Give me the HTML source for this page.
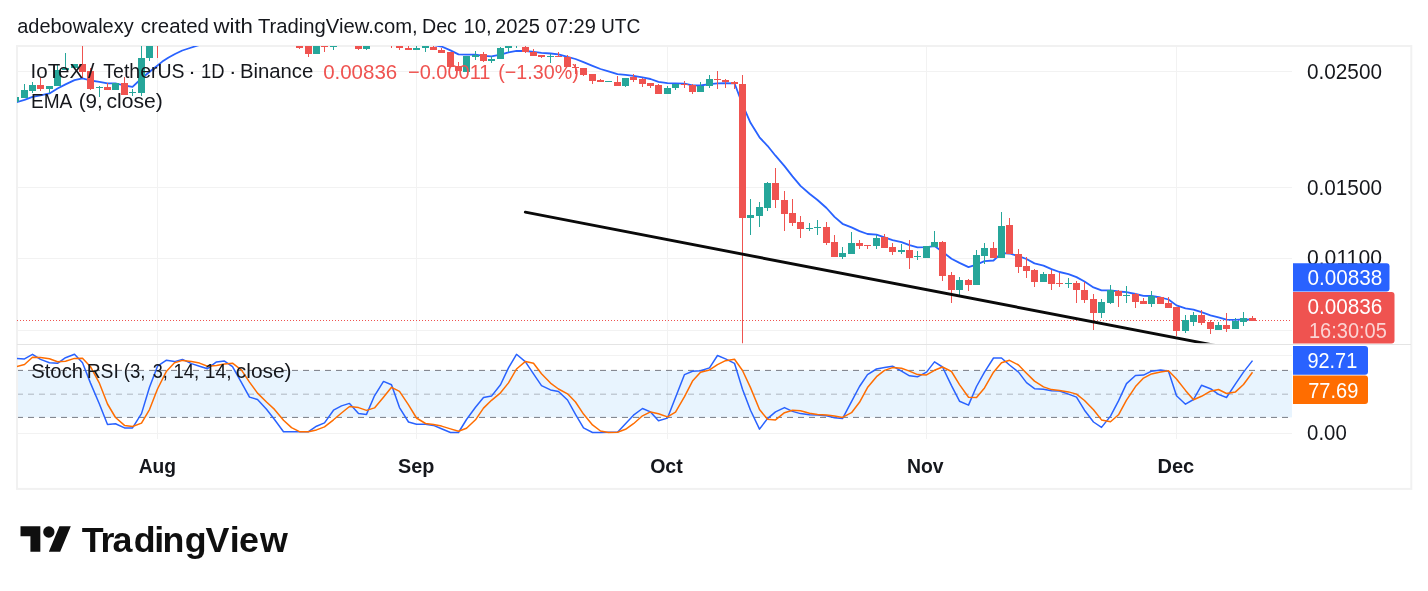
<!DOCTYPE html>
<html><head><meta charset="utf-8"><title>IOTXUSDT chart</title>
<style>
html,body{margin:0;padding:0;background:#fff;}
body{width:1428px;height:591px;overflow:hidden;position:relative;}
svg{position:absolute;left:0;top:0;display:block;}
text{font-family:"Liberation Sans",sans-serif;}
</style></head><body>
<svg width="1428" height="591" viewBox="0 0 1428 591">
<defs>
<clipPath id="mp"><rect x="17" y="46" width="1276" height="297.3"/></clipPath>
<clipPath id="sp"><rect x="17" y="345" width="1276" height="94"/></clipPath>
</defs>
<rect x="0" y="0" width="1428" height="591" fill="#ffffff"/>

<g stroke="#f2f2f2" stroke-width="1" shape-rendering="crispEdges">
<line x1="157.5" y1="46" x2="157.5" y2="439"/>
<line x1="416.5" y1="46" x2="416.5" y2="439"/>
<line x1="667.5" y1="46" x2="667.5" y2="439"/>
<line x1="926.5" y1="46" x2="926.5" y2="439"/>
<line x1="1176.5" y1="46" x2="1176.5" y2="439"/>
<line x1="17" y1="71.5" x2="1292" y2="71.5"/>
<line x1="17" y1="187.5" x2="1292" y2="187.5"/>
<line x1="17" y1="258.5" x2="1292" y2="258.5"/>
<line x1="17" y1="330.5" x2="1292" y2="330.5"/>
<line x1="17" y1="355.5" x2="1292" y2="355.5"/>
<line x1="17" y1="433.5" x2="1292" y2="433.5"/>
</g>
<rect x="17" y="370.4" width="1275" height="47" fill="#2196f3" fill-opacity="0.1"/>
<g stroke="#787b86" stroke-width="1" fill="none">
<line x1="17" y1="370.4" x2="1292" y2="370.4" stroke-dasharray="6 5"/>
<line x1="17" y1="394.2" x2="1292" y2="394.2" stroke-dasharray="6 5" stroke-opacity="0.5"/>
<line x1="17" y1="417.4" x2="1292" y2="417.4" stroke-dasharray="6 5"/>
</g>
<rect x="17" y="46" width="1394.3" height="442.9" fill="none" stroke="#f1f1f1" stroke-width="2"/>
<line x1="17" y1="344.5" x2="1411" y2="344.5" stroke="#e4e4e4" stroke-width="1"/>
<g clip-path="url(#mp)">
<line x1="17" y1="320.5" x2="1292" y2="320.5" stroke="#ef5350" stroke-width="1" stroke-dasharray="1 2"/>
<polyline points="15.5,102.5 24.5,99.9 32.5,96.9 40.5,95.3 49.5,93.4 57.5,88.5 65.5,84.4 74.5,80.1 82.5,78.4 90.5,80.5 99.5,81.8 107.5,83.3 115.5,83.3 124.5,85.5 132.5,86.8 142.0,78.0 149.6,71.7 156.9,66.0 162.3,61.6 168.6,57.5 175.0,54.0 182.3,50.5 190.0,48.0 198.0,45.5 206.0,43.0" fill="none" stroke="#2962ff" stroke-width="1.8" stroke-linejoin="round"/>
<polyline points="433.5,45.0 441.5,46.5 450.5,50.4 458.5,54.4 466.5,54.7 475.5,54.7 483.5,55.9 491.5,56.4 500.5,54.7 508.5,52.3 516.5,50.9 525.5,51.0 533.5,51.9 541.5,52.9 550.5,53.5 558.5,54.3 567.5,56.8 575.5,59.0 583.5,62.1 592.5,65.8 600.5,69.0 608.5,71.3 617.5,74.1 625.5,74.8 633.5,75.8 642.5,77.4 650.5,79.0 658.5,81.8 667.5,83.1 675.5,83.3 684.5,83.7 692.5,85.4 700.5,85.5 709.5,84.2 717.5,83.4 725.5,83.2 734.5,83.3 742.5,104.5 750.5,122.8 759.5,137.3 767.5,145.8 775.5,155.7 784.5,166.1 792.5,176.4 800.5,185.9 809.5,193.7 817.5,200.0 826.5,208.0 834.5,216.9 842.5,223.8 851.5,227.4 859.5,231.1 867.5,234.0 876.5,234.7 884.5,237.3 892.5,240.1 901.5,242.1 909.5,245.2 917.5,247.3 926.5,247.1 934.5,246.1 942.5,251.7 951.5,258.8 959.5,262.9 968.5,267.1 976.5,264.6 984.5,261.2 993.5,260.5 1001.5,253.2 1009.5,253.5 1018.5,256.1 1026.5,259.0 1034.5,263.4 1043.5,265.6 1051.5,269.1 1059.5,272.0 1068.5,274.1 1076.5,277.1 1084.5,281.5 1093.5,287.4 1101.5,290.3 1110.5,290.3 1118.5,291.5 1126.5,292.2 1135.5,294.0 1143.5,295.9 1151.5,296.0 1160.5,297.5 1168.5,299.5 1176.5,305.4 1185.5,308.3 1193.5,309.6 1201.5,312.1 1210.5,315.3 1218.5,317.3 1226.5,319.6 1235.5,319.8 1243.5,319.3 1252.5,319.6" fill="none" stroke="#2962ff" stroke-width="1.8" stroke-linejoin="round"/>
<rect x="15.0" y="97" width="1" height="5" fill="#26a69a"/>
<rect x="12.0" y="97" width="7" height="5" fill="#26a69a"/>
<rect x="24.0" y="84" width="1" height="14" fill="#26a69a"/>
<rect x="21.0" y="90" width="7" height="8" fill="#26a69a"/>
<rect x="32.0" y="82" width="1" height="11" fill="#26a69a"/>
<rect x="29.0" y="85" width="7" height="6" fill="#26a69a"/>
<rect x="40.0" y="77" width="1" height="14" fill="#ef5350"/>
<rect x="37.0" y="85" width="7" height="4" fill="#ef5350"/>
<rect x="49.0" y="86" width="1" height="7" fill="#26a69a"/>
<rect x="46.0" y="86" width="7" height="3" fill="#26a69a"/>
<rect x="57.0" y="65" width="1" height="21" fill="#26a69a"/>
<rect x="54.0" y="70" width="7" height="16" fill="#26a69a"/>
<rect x="65.0" y="53" width="1" height="17" fill="#26a69a"/>
<rect x="62.0" y="68" width="7" height="2" fill="#26a69a"/>
<rect x="74.0" y="64" width="1" height="4" fill="#26a69a"/>
<rect x="71.0" y="64" width="7" height="4" fill="#26a69a"/>
<rect x="82.0" y="40" width="1" height="38" fill="#ef5350"/>
<rect x="79.0" y="64" width="7" height="8" fill="#ef5350"/>
<rect x="90.0" y="68" width="1" height="22" fill="#ef5350"/>
<rect x="87.0" y="71" width="7" height="18" fill="#ef5350"/>
<rect x="99.0" y="86" width="1" height="11" fill="#26a69a"/>
<rect x="96.0" y="87" width="7" height="1" fill="#26a69a"/>
<rect x="107.0" y="83" width="1" height="7" fill="#ef5350"/>
<rect x="104.0" y="87" width="7" height="3" fill="#ef5350"/>
<rect x="115.0" y="83" width="1" height="7" fill="#26a69a"/>
<rect x="112.0" y="83" width="7" height="7" fill="#26a69a"/>
<rect x="124.0" y="77" width="1" height="18" fill="#ef5350"/>
<rect x="121.0" y="83" width="7" height="12" fill="#ef5350"/>
<rect x="132.0" y="89" width="1" height="7" fill="#26a69a"/>
<rect x="129.0" y="92" width="7" height="1" fill="#26a69a"/>
<rect x="141.0" y="40" width="1" height="56" fill="#26a69a"/>
<rect x="138.0" y="58" width="7" height="35" fill="#26a69a"/>
<rect x="149.0" y="30" width="1" height="31" fill="#26a69a"/>
<rect x="146.0" y="30" width="7" height="28" fill="#26a69a"/>
<rect x="157.0" y="20" width="1" height="38" fill="#ef5350"/>
<rect x="154.0" y="20" width="7" height="10" fill="#ef5350"/>
<rect x="299.0" y="30" width="1" height="19" fill="#ef5350"/>
<rect x="296.0" y="30" width="7" height="18" fill="#ef5350"/>
<rect x="308.0" y="30" width="1" height="27" fill="#ef5350"/>
<rect x="305.0" y="30" width="7" height="24" fill="#ef5350"/>
<rect x="316.0" y="30" width="1" height="24" fill="#26a69a"/>
<rect x="313.0" y="30" width="7" height="24" fill="#26a69a"/>
<rect x="324.0" y="30" width="1" height="22" fill="#ef5350"/>
<rect x="321.0" y="30" width="7" height="17" fill="#ef5350"/>
<rect x="333.0" y="30" width="1" height="20" fill="#26a69a"/>
<rect x="330.0" y="30" width="7" height="17" fill="#26a69a"/>
<rect x="358.0" y="30" width="1" height="20" fill="#ef5350"/>
<rect x="355.0" y="30" width="7" height="19" fill="#ef5350"/>
<rect x="366.0" y="30" width="1" height="20" fill="#26a69a"/>
<rect x="363.0" y="30" width="7" height="19" fill="#26a69a"/>
<rect x="391.0" y="30" width="1" height="18" fill="#ef5350"/>
<rect x="388.0" y="30" width="7" height="10" fill="#ef5350"/>
<rect x="399.0" y="30" width="1" height="20" fill="#ef5350"/>
<rect x="396.0" y="30" width="7" height="18" fill="#ef5350"/>
<rect x="408.0" y="40" width="1" height="10" fill="#ef5350"/>
<rect x="405.0" y="48" width="7" height="2" fill="#ef5350"/>
<rect x="416.0" y="40" width="1" height="10" fill="#26a69a"/>
<rect x="413.0" y="48" width="7" height="2" fill="#26a69a"/>
<rect x="425.0" y="40" width="1" height="12" fill="#26a69a"/>
<rect x="422.0" y="40" width="7" height="8" fill="#26a69a"/>
<rect x="433.0" y="40" width="1" height="10" fill="#ef5350"/>
<rect x="430.0" y="47" width="7" height="3" fill="#ef5350"/>
<rect x="441.0" y="48" width="1" height="5" fill="#ef5350"/>
<rect x="438.0" y="50" width="7" height="3" fill="#ef5350"/>
<rect x="450.0" y="52" width="1" height="15" fill="#ef5350"/>
<rect x="447.0" y="52" width="7" height="15" fill="#ef5350"/>
<rect x="458.0" y="62" width="1" height="9" fill="#ef5350"/>
<rect x="455.0" y="66" width="7" height="5" fill="#ef5350"/>
<rect x="466.0" y="56" width="1" height="16" fill="#26a69a"/>
<rect x="463.0" y="56" width="7" height="16" fill="#26a69a"/>
<rect x="475.0" y="51" width="1" height="9" fill="#26a69a"/>
<rect x="472.0" y="55" width="7" height="2" fill="#26a69a"/>
<rect x="483.0" y="52" width="1" height="10" fill="#ef5350"/>
<rect x="480.0" y="54" width="7" height="7" fill="#ef5350"/>
<rect x="491.0" y="56" width="1" height="7" fill="#26a69a"/>
<rect x="488.0" y="59" width="7" height="2" fill="#26a69a"/>
<rect x="500.0" y="47" width="1" height="12" fill="#26a69a"/>
<rect x="497.0" y="48" width="7" height="11" fill="#26a69a"/>
<rect x="508.0" y="40" width="1" height="12" fill="#26a69a"/>
<rect x="505.0" y="43" width="7" height="5" fill="#26a69a"/>
<rect x="516.0" y="40" width="1" height="8" fill="#26a69a"/>
<rect x="513.0" y="45" width="7" height="1" fill="#26a69a"/>
<rect x="525.0" y="40" width="1" height="13" fill="#ef5350"/>
<rect x="522.0" y="47" width="7" height="5" fill="#ef5350"/>
<rect x="533.0" y="49" width="1" height="7" fill="#ef5350"/>
<rect x="530.0" y="52" width="7" height="4" fill="#ef5350"/>
<rect x="541.0" y="55" width="1" height="3" fill="#ef5350"/>
<rect x="538.0" y="55" width="7" height="2" fill="#ef5350"/>
<rect x="550.0" y="54" width="1" height="9" fill="#26a69a"/>
<rect x="547.0" y="56" width="7" height="1" fill="#26a69a"/>
<rect x="558.0" y="52" width="1" height="5" fill="#ef5350"/>
<rect x="555.0" y="56" width="7" height="1" fill="#ef5350"/>
<rect x="567.0" y="55" width="1" height="12" fill="#ef5350"/>
<rect x="564.0" y="57" width="7" height="10" fill="#ef5350"/>
<rect x="575.0" y="64" width="1" height="10" fill="#ef5350"/>
<rect x="572.0" y="67" width="7" height="1" fill="#ef5350"/>
<rect x="583.0" y="68" width="1" height="8" fill="#ef5350"/>
<rect x="580.0" y="68" width="7" height="7" fill="#ef5350"/>
<rect x="592.0" y="74" width="1" height="10" fill="#ef5350"/>
<rect x="589.0" y="74" width="7" height="7" fill="#ef5350"/>
<rect x="600.0" y="79" width="1" height="3" fill="#ef5350"/>
<rect x="597.0" y="80" width="7" height="2" fill="#ef5350"/>
<rect x="608.0" y="81" width="1" height="1" fill="#26a69a"/>
<rect x="605.0" y="81" width="7" height="1" fill="#26a69a"/>
<rect x="617.0" y="76" width="1" height="10" fill="#ef5350"/>
<rect x="614.0" y="82" width="7" height="4" fill="#ef5350"/>
<rect x="625.0" y="78" width="1" height="9" fill="#26a69a"/>
<rect x="622.0" y="78" width="7" height="8" fill="#26a69a"/>
<rect x="633.0" y="74" width="1" height="8" fill="#ef5350"/>
<rect x="630.0" y="77" width="7" height="3" fill="#ef5350"/>
<rect x="642.0" y="78" width="1" height="9" fill="#ef5350"/>
<rect x="639.0" y="79" width="7" height="5" fill="#ef5350"/>
<rect x="650.0" y="83" width="1" height="5" fill="#ef5350"/>
<rect x="647.0" y="83" width="7" height="3" fill="#ef5350"/>
<rect x="658.0" y="84" width="1" height="10" fill="#ef5350"/>
<rect x="655.0" y="85" width="7" height="9" fill="#ef5350"/>
<rect x="667.0" y="86" width="1" height="8" fill="#26a69a"/>
<rect x="664.0" y="88" width="7" height="6" fill="#26a69a"/>
<rect x="675.0" y="84" width="1" height="6" fill="#26a69a"/>
<rect x="672.0" y="84" width="7" height="4" fill="#26a69a"/>
<rect x="684.0" y="81" width="1" height="7" fill="#ef5350"/>
<rect x="681.0" y="84" width="7" height="1" fill="#ef5350"/>
<rect x="692.0" y="84" width="1" height="10" fill="#ef5350"/>
<rect x="689.0" y="85" width="7" height="7" fill="#ef5350"/>
<rect x="700.0" y="82" width="1" height="10" fill="#26a69a"/>
<rect x="697.0" y="86" width="7" height="6" fill="#26a69a"/>
<rect x="709.0" y="75" width="1" height="13" fill="#26a69a"/>
<rect x="706.0" y="79" width="7" height="7" fill="#26a69a"/>
<rect x="717.0" y="71" width="1" height="18" fill="#ef5350"/>
<rect x="714.0" y="79" width="7" height="1" fill="#ef5350"/>
<rect x="725.0" y="79" width="1" height="9" fill="#ef5350"/>
<rect x="722.0" y="80" width="7" height="2" fill="#ef5350"/>
<rect x="734.0" y="81" width="1" height="8" fill="#ef5350"/>
<rect x="731.0" y="82" width="7" height="2" fill="#ef5350"/>
<rect x="742.0" y="75" width="1" height="269" fill="#ef5350"/>
<rect x="739.0" y="84" width="7" height="134" fill="#ef5350"/>
<rect x="750.0" y="199" width="1" height="36" fill="#26a69a"/>
<rect x="747.0" y="215" width="7" height="3" fill="#26a69a"/>
<rect x="759.0" y="202" width="1" height="25" fill="#26a69a"/>
<rect x="756.0" y="207" width="7" height="9" fill="#26a69a"/>
<rect x="767.0" y="182" width="1" height="29" fill="#26a69a"/>
<rect x="764.0" y="183" width="7" height="25" fill="#26a69a"/>
<rect x="775.0" y="168" width="1" height="40" fill="#ef5350"/>
<rect x="772.0" y="183" width="7" height="17" fill="#ef5350"/>
<rect x="784.0" y="191" width="1" height="40" fill="#ef5350"/>
<rect x="781.0" y="200" width="7" height="14" fill="#ef5350"/>
<rect x="792.0" y="199" width="1" height="27" fill="#ef5350"/>
<rect x="789.0" y="213" width="7" height="10" fill="#ef5350"/>
<rect x="800.0" y="216" width="1" height="22" fill="#ef5350"/>
<rect x="797.0" y="222" width="7" height="7" fill="#ef5350"/>
<rect x="809.0" y="223" width="1" height="8" fill="#26a69a"/>
<rect x="806.0" y="228" width="7" height="1" fill="#26a69a"/>
<rect x="817.0" y="220" width="1" height="15" fill="#26a69a"/>
<rect x="814.0" y="227" width="7" height="1" fill="#26a69a"/>
<rect x="826.0" y="222" width="1" height="23" fill="#ef5350"/>
<rect x="823.0" y="227" width="7" height="16" fill="#ef5350"/>
<rect x="834.0" y="235" width="1" height="22" fill="#ef5350"/>
<rect x="831.0" y="242" width="7" height="15" fill="#ef5350"/>
<rect x="842.0" y="247" width="1" height="12" fill="#26a69a"/>
<rect x="839.0" y="253" width="7" height="4" fill="#26a69a"/>
<rect x="851.0" y="232" width="1" height="22" fill="#26a69a"/>
<rect x="848.0" y="243" width="7" height="11" fill="#26a69a"/>
<rect x="859.0" y="240" width="1" height="9" fill="#ef5350"/>
<rect x="856.0" y="243" width="7" height="3" fill="#ef5350"/>
<rect x="867.0" y="245" width="1" height="4" fill="#ef5350"/>
<rect x="864.0" y="245" width="7" height="1" fill="#ef5350"/>
<rect x="876.0" y="235" width="1" height="14" fill="#26a69a"/>
<rect x="873.0" y="238" width="7" height="8" fill="#26a69a"/>
<rect x="884.0" y="234" width="1" height="14" fill="#ef5350"/>
<rect x="881.0" y="237" width="7" height="11" fill="#ef5350"/>
<rect x="892.0" y="243" width="1" height="12" fill="#ef5350"/>
<rect x="889.0" y="247" width="7" height="5" fill="#ef5350"/>
<rect x="901.0" y="244" width="1" height="10" fill="#26a69a"/>
<rect x="898.0" y="250" width="7" height="2" fill="#26a69a"/>
<rect x="909.0" y="240" width="1" height="29" fill="#ef5350"/>
<rect x="906.0" y="250" width="7" height="8" fill="#ef5350"/>
<rect x="917.0" y="251" width="1" height="9" fill="#26a69a"/>
<rect x="914.0" y="256" width="7" height="1" fill="#26a69a"/>
<rect x="926.0" y="246" width="1" height="12" fill="#26a69a"/>
<rect x="923.0" y="246" width="7" height="12" fill="#26a69a"/>
<rect x="934.0" y="231" width="1" height="16" fill="#26a69a"/>
<rect x="931.0" y="242" width="7" height="5" fill="#26a69a"/>
<rect x="942.0" y="241" width="1" height="40" fill="#ef5350"/>
<rect x="939.0" y="242" width="7" height="34" fill="#ef5350"/>
<rect x="951.0" y="272" width="1" height="31" fill="#ef5350"/>
<rect x="948.0" y="275" width="7" height="15" fill="#ef5350"/>
<rect x="959.0" y="277" width="1" height="19" fill="#26a69a"/>
<rect x="956.0" y="280" width="7" height="10" fill="#26a69a"/>
<rect x="968.0" y="279" width="1" height="12" fill="#ef5350"/>
<rect x="965.0" y="280" width="7" height="5" fill="#ef5350"/>
<rect x="976.0" y="250" width="1" height="35" fill="#26a69a"/>
<rect x="973.0" y="255" width="7" height="30" fill="#26a69a"/>
<rect x="984.0" y="243" width="1" height="21" fill="#26a69a"/>
<rect x="981.0" y="248" width="7" height="8" fill="#26a69a"/>
<rect x="993.0" y="242" width="1" height="16" fill="#ef5350"/>
<rect x="990.0" y="248" width="7" height="10" fill="#ef5350"/>
<rect x="1001.0" y="212" width="1" height="46" fill="#26a69a"/>
<rect x="998.0" y="226" width="7" height="32" fill="#26a69a"/>
<rect x="1009.0" y="218" width="1" height="36" fill="#ef5350"/>
<rect x="1006.0" y="225" width="7" height="29" fill="#ef5350"/>
<rect x="1018.0" y="249" width="1" height="24" fill="#ef5350"/>
<rect x="1015.0" y="254" width="7" height="13" fill="#ef5350"/>
<rect x="1026.0" y="257" width="1" height="21" fill="#ef5350"/>
<rect x="1023.0" y="266" width="7" height="5" fill="#ef5350"/>
<rect x="1034.0" y="269" width="1" height="18" fill="#ef5350"/>
<rect x="1031.0" y="270" width="7" height="12" fill="#ef5350"/>
<rect x="1043.0" y="272" width="1" height="10" fill="#26a69a"/>
<rect x="1040.0" y="274" width="7" height="8" fill="#26a69a"/>
<rect x="1051.0" y="270" width="1" height="20" fill="#ef5350"/>
<rect x="1048.0" y="274" width="7" height="10" fill="#ef5350"/>
<rect x="1059.0" y="273" width="1" height="14" fill="#ef5350"/>
<rect x="1056.0" y="283" width="7" height="1" fill="#ef5350"/>
<rect x="1068.0" y="278" width="1" height="10" fill="#26a69a"/>
<rect x="1065.0" y="283" width="7" height="1" fill="#26a69a"/>
<rect x="1076.0" y="281" width="1" height="22" fill="#ef5350"/>
<rect x="1073.0" y="283" width="7" height="7" fill="#ef5350"/>
<rect x="1084.0" y="282" width="1" height="21" fill="#ef5350"/>
<rect x="1081.0" y="290" width="7" height="10" fill="#ef5350"/>
<rect x="1093.0" y="294" width="1" height="36" fill="#ef5350"/>
<rect x="1090.0" y="299" width="7" height="14" fill="#ef5350"/>
<rect x="1101.0" y="299" width="1" height="19" fill="#26a69a"/>
<rect x="1098.0" y="302" width="7" height="11" fill="#26a69a"/>
<rect x="1110.0" y="285" width="1" height="19" fill="#26a69a"/>
<rect x="1107.0" y="290" width="7" height="13" fill="#26a69a"/>
<rect x="1118.0" y="290" width="1" height="17" fill="#ef5350"/>
<rect x="1115.0" y="291" width="7" height="5" fill="#ef5350"/>
<rect x="1126.0" y="286" width="1" height="17" fill="#26a69a"/>
<rect x="1123.0" y="295" width="7" height="1" fill="#26a69a"/>
<rect x="1135.0" y="293" width="1" height="15" fill="#ef5350"/>
<rect x="1132.0" y="294" width="7" height="8" fill="#ef5350"/>
<rect x="1143.0" y="298" width="1" height="6" fill="#ef5350"/>
<rect x="1140.0" y="301" width="7" height="3" fill="#ef5350"/>
<rect x="1151.0" y="291" width="1" height="16" fill="#26a69a"/>
<rect x="1148.0" y="296" width="7" height="8" fill="#26a69a"/>
<rect x="1160.0" y="297" width="1" height="7" fill="#ef5350"/>
<rect x="1157.0" y="297" width="7" height="7" fill="#ef5350"/>
<rect x="1168.0" y="297" width="1" height="11" fill="#ef5350"/>
<rect x="1165.0" y="303" width="7" height="5" fill="#ef5350"/>
<rect x="1176.0" y="307" width="1" height="29" fill="#ef5350"/>
<rect x="1173.0" y="307" width="7" height="24" fill="#ef5350"/>
<rect x="1185.0" y="315" width="1" height="18" fill="#26a69a"/>
<rect x="1182.0" y="320" width="7" height="11" fill="#26a69a"/>
<rect x="1193.0" y="312" width="1" height="14" fill="#26a69a"/>
<rect x="1190.0" y="315" width="7" height="7" fill="#26a69a"/>
<rect x="1201.0" y="310" width="1" height="15" fill="#ef5350"/>
<rect x="1198.0" y="315" width="7" height="8" fill="#ef5350"/>
<rect x="1210.0" y="320" width="1" height="14" fill="#ef5350"/>
<rect x="1207.0" y="322" width="7" height="7" fill="#ef5350"/>
<rect x="1218.0" y="322" width="1" height="8" fill="#26a69a"/>
<rect x="1215.0" y="325" width="7" height="5" fill="#26a69a"/>
<rect x="1226.0" y="313" width="1" height="19" fill="#ef5350"/>
<rect x="1223.0" y="325" width="7" height="4" fill="#ef5350"/>
<rect x="1235.0" y="318" width="1" height="11" fill="#26a69a"/>
<rect x="1232.0" y="321" width="7" height="8" fill="#26a69a"/>
<rect x="1243.0" y="312" width="1" height="14" fill="#26a69a"/>
<rect x="1240.0" y="318" width="7" height="4" fill="#26a69a"/>
<rect x="1252.0" y="316" width="1" height="5" fill="#ef5350"/>
<rect x="1249.0" y="318" width="7" height="3" fill="#ef5350"/>
<line x1="525.3" y1="212.2" x2="1240" y2="350.2" stroke="#0a0a0a" stroke-width="2.9" stroke-linecap="round"/>
</g>
<g clip-path="url(#sp)">
<polyline points="15.5,358.5 24.5,358.9 32.5,354.3 40.5,359.4 49.5,362.8 57.5,363.3 65.5,357.7 74.5,354.3 82.5,362.8 90.5,383.1 99.5,404.2 107.5,424.6 115.5,423.7 124.5,427.9 132.5,427.9 141.5,413.6 149.5,387.3 157.5,366.2 166.5,360.2 174.5,361.6 182.5,359.4 191.5,363.6 199.5,366.2 207.5,368.7 216.5,361.9 224.5,361.1 232.5,366.7 241.5,382.6 249.5,397.1 257.5,399.5 266.5,409.3 274.5,419.5 283.5,431.7 291.5,431.7 299.5,431.7 308.5,431.7 316.5,426.2 324.5,422.9 333.5,410.2 341.5,405.9 349.5,403.4 358.5,413.6 366.5,414.4 374.5,395.8 383.5,381.4 391.5,384.8 399.5,407.6 408.5,422.0 416.5,424.2 425.5,424.2 433.5,425.4 441.5,428.8 450.5,432.5 458.5,432.5 466.5,419.5 475.5,407.3 483.5,397.5 491.5,396.1 500.5,384.8 508.5,367.9 516.5,354.3 525.5,361.9 533.5,373.8 541.5,385.6 550.5,389.9 558.5,391.5 567.5,400.0 575.5,414.4 583.5,427.9 592.5,432.5 600.5,432.5 608.5,432.2 617.5,432.2 625.5,423.7 633.5,415.2 642.5,408.5 650.5,411.9 658.5,420.8 667.5,418.1 675.5,397.5 684.5,374.6 692.5,371.2 700.5,370.7 709.5,367.9 717.5,355.5 725.5,358.9 734.5,363.3 742.5,389.3 750.5,410.2 759.5,429.1 767.5,418.6 775.5,411.9 784.5,407.6 792.5,411.4 800.5,413.6 809.5,414.7 817.5,414.9 826.5,415.8 834.5,417.8 842.5,418.6 851.5,401.7 859.5,386.5 867.5,374.6 876.5,369.0 884.5,367.5 892.5,366.2 901.5,371.2 909.5,375.8 917.5,376.8 926.5,372.1 934.5,361.9 942.5,367.0 951.5,385.6 959.5,401.2 968.5,405.1 976.5,386.5 984.5,372.1 993.5,358.0 1001.5,358.0 1009.5,365.0 1018.5,372.1 1026.5,382.6 1034.5,388.7 1043.5,389.3 1051.5,390.7 1059.5,391.0 1068.5,394.1 1076.5,397.1 1084.5,410.2 1093.5,422.0 1101.5,427.4 1110.5,416.1 1118.5,400.9 1126.5,383.6 1135.5,375.5 1143.5,375.1 1151.5,371.2 1160.5,370.1 1168.5,371.2 1176.5,395.8 1185.5,404.2 1193.5,399.5 1201.5,385.3 1210.5,388.7 1218.5,394.4 1226.5,397.5 1235.5,383.9 1243.5,372.1 1252.5,360.6" fill="none" stroke="#2962ff" stroke-width="1.5" stroke-linejoin="round"/>
<polyline points="15.5,367.0 24.5,364.5 32.5,357.2 40.5,357.5 49.5,358.8 57.5,361.8 65.5,361.2 74.5,358.4 82.5,358.3 90.5,366.7 99.5,383.4 107.5,404.0 115.5,417.5 124.5,425.4 132.5,426.5 141.5,423.1 149.5,409.6 157.5,389.0 166.5,371.2 174.5,362.7 182.5,360.4 191.5,361.5 199.5,363.1 207.5,366.2 216.5,365.6 224.5,363.9 232.5,363.2 241.5,370.1 249.5,382.1 257.5,393.1 266.5,402.0 274.5,409.4 283.5,420.2 291.5,427.6 299.5,431.7 308.5,431.7 316.5,429.9 324.5,426.9 333.5,419.8 341.5,413.0 349.5,406.5 358.5,407.6 366.5,410.4 374.5,407.9 383.5,397.2 391.5,387.3 399.5,391.3 408.5,404.8 416.5,418.0 425.5,423.5 433.5,424.6 441.5,426.1 450.5,428.9 458.5,431.3 466.5,428.2 475.5,419.8 483.5,408.1 491.5,400.3 500.5,392.8 508.5,382.9 516.5,369.0 525.5,361.4 533.5,363.3 541.5,373.8 550.5,383.1 558.5,389.0 567.5,393.8 575.5,402.0 583.5,414.1 592.5,424.9 600.5,431.0 608.5,432.4 617.5,432.3 625.5,429.3 633.5,423.7 642.5,415.8 650.5,411.9 658.5,413.7 667.5,416.9 675.5,412.1 684.5,396.7 692.5,381.1 700.5,372.2 709.5,369.9 717.5,364.7 725.5,360.7 734.5,359.2 742.5,370.5 750.5,387.6 759.5,409.5 767.5,419.3 775.5,419.9 784.5,412.7 792.5,410.3 800.5,410.8 809.5,413.2 817.5,414.4 826.5,415.1 834.5,416.1 842.5,417.4 851.5,412.7 859.5,402.3 867.5,387.6 876.5,376.7 884.5,370.4 892.5,367.6 901.5,368.3 909.5,371.1 917.5,374.6 926.5,374.9 934.5,370.3 942.5,367.0 951.5,371.5 959.5,384.6 968.5,397.3 976.5,397.6 984.5,387.9 993.5,372.2 1001.5,362.7 1009.5,360.3 1018.5,365.0 1026.5,373.2 1034.5,381.1 1043.5,386.9 1051.5,389.6 1059.5,390.4 1068.5,391.9 1076.5,394.1 1084.5,400.5 1093.5,409.8 1101.5,419.9 1110.5,421.8 1118.5,414.8 1126.5,400.2 1135.5,386.6 1143.5,378.1 1151.5,373.9 1160.5,372.1 1168.5,370.8 1176.5,379.0 1185.5,390.4 1193.5,399.8 1201.5,396.3 1210.5,391.2 1218.5,389.5 1226.5,393.5 1235.5,391.9 1243.5,384.5 1252.5,372.2" fill="none" stroke="#ff6d00" stroke-width="1.5" stroke-linejoin="round"/>
</g>
<g>
<text x="17.25" y="32.6" font-size="20.5" fill="#15171c" textLength="116.39" lengthAdjust="spacingAndGlyphs">adebowalexy</text>
<text x="140.83" y="32.6" font-size="20.5" fill="#15171c" textLength="68.14" lengthAdjust="spacingAndGlyphs">created</text>
<text x="213.40" y="32.6" font-size="20.5" fill="#15171c" textLength="39.54" lengthAdjust="spacingAndGlyphs">with</text>
<text x="257.91" y="32.6" font-size="20.5" fill="#15171c" textLength="159.77" lengthAdjust="spacingAndGlyphs">TradingView.com,</text>
<text x="421.94" y="32.6" font-size="20.5" fill="#15171c" textLength="35.02" lengthAdjust="spacingAndGlyphs">Dec</text>
<text x="463.49" y="32.6" font-size="20.5" fill="#15171c" textLength="28.27" lengthAdjust="spacingAndGlyphs">10,</text>
<text x="495.12" y="32.6" font-size="20.5" fill="#15171c" textLength="44.82" lengthAdjust="spacingAndGlyphs">2025</text>
<text x="545.77" y="32.6" font-size="20.5" fill="#15171c" textLength="50.14" lengthAdjust="spacingAndGlyphs">07:29</text>
<text x="600.88" y="32.6" font-size="20.5" fill="#15171c" textLength="39.34" lengthAdjust="spacingAndGlyphs">UTC</text>
<text x="30.62" y="78.4" font-size="20.5" fill="#15171c" textLength="52.60" lengthAdjust="spacingAndGlyphs">IoTeX</text>
<text x="88.00" y="78.4" font-size="20.5" fill="#15171c" textLength="6.38" lengthAdjust="spacingAndGlyphs">/</text>
<text x="103.33" y="78.4" font-size="20.5" fill="#15171c" textLength="81.18" lengthAdjust="spacingAndGlyphs">TetherUS</text>
<text x="188.39" y="78.4" font-size="20.5" fill="#15171c" textLength="7.51" lengthAdjust="spacingAndGlyphs">·</text>
<text x="200.94" y="78.4" font-size="20.5" fill="#15171c" textLength="23.52" lengthAdjust="spacingAndGlyphs">1D</text>
<text x="228.99" y="78.4" font-size="20.5" fill="#15171c" textLength="7.51" lengthAdjust="spacingAndGlyphs">·</text>
<text x="239.89" y="78.4" font-size="20.5" fill="#15171c" textLength="73.46" lengthAdjust="spacingAndGlyphs">Binance</text>
<text x="323.15" y="78.6" font-size="20.5" fill="#ef5350" textLength="74.03" lengthAdjust="spacingAndGlyphs">0.00836</text>
<text x="408.03" y="78.6" font-size="20.5" fill="#ef5350" textLength="82.40" lengthAdjust="spacingAndGlyphs">−0.00011</text>
<text x="498.30" y="78.6" font-size="20.5" fill="#ef5350" textLength="80.50" lengthAdjust="spacingAndGlyphs">(−1.30%)</text>
<text x="30.99" y="107.7" font-size="20.5" fill="#15171c" textLength="41.36" lengthAdjust="spacingAndGlyphs">EMA</text>
<text x="78.74" y="107.7" font-size="20.5" fill="#15171c" textLength="24.07" lengthAdjust="spacingAndGlyphs">(9,</text>
<text x="106.50" y="107.7" font-size="20.5" fill="#15171c" textLength="56.35" lengthAdjust="spacingAndGlyphs">close)</text>
<text x="31.21" y="378.2" font-size="20.5" fill="#15171c" textLength="51.87" lengthAdjust="spacingAndGlyphs">Stoch</text>
<text x="86.67" y="378.2" font-size="20.5" fill="#15171c" textLength="32.25" lengthAdjust="spacingAndGlyphs">RSI</text>
<text x="123.76" y="378.2" font-size="20.5" fill="#15171c" textLength="21.77" lengthAdjust="spacingAndGlyphs">(3,</text>
<text x="152.64" y="378.2" font-size="20.5" fill="#15171c" textLength="15.09" lengthAdjust="spacingAndGlyphs">3,</text>
<text x="173.43" y="378.2" font-size="20.5" fill="#15171c" textLength="25.76" lengthAdjust="spacingAndGlyphs">14,</text>
<text x="204.77" y="378.2" font-size="20.5" fill="#15171c" textLength="26.79" lengthAdjust="spacingAndGlyphs">14,</text>
<text x="235.81" y="378.2" font-size="20.5" fill="#15171c" textLength="55.73" lengthAdjust="spacingAndGlyphs">close)</text>
<text x="1306.97" y="79.2" font-size="21.8" fill="#15171c" textLength="74.99" lengthAdjust="spacingAndGlyphs">0.02500</text>
<text x="1306.97" y="194.7" font-size="21.8" fill="#15171c" textLength="74.99" lengthAdjust="spacingAndGlyphs">0.01500</text>
<text x="1306.95" y="265.2" font-size="21.8" fill="#15171c" textLength="75.03" lengthAdjust="spacingAndGlyphs">0.01100</text>
<text x="1307.08" y="439.6" font-size="21.8" fill="#15171c" textLength="39.67" lengthAdjust="spacingAndGlyphs">0.00</text>
</g>
<path d="M1293,263.3h93.5a3,3 0 0 1 3,3v22.2a3,3 0 0 1 -3,3h-93.5z" fill="#2962ff"/>
<path d="M1293,292h98.5a3,3 0 0 1 3,3v45.5a3,3 0 0 1 -3,3h-98.5z" fill="#ef5350"/>
<path d="M1293,346h72a3,3 0 0 1 3,3v22.8a3,3 0 0 1 -3,3h-72z" fill="#2962ff"/>
<path d="M1293,375.4h72a3,3 0 0 1 3,3v22.6a3,3 0 0 1 -3,3h-72z" fill="#ff6d00"/>
<g transform="translate(20.5,520.63) scale(1.4167)" fill="#0f0f0f"><path d="M14 22H7V11H0V4h14v18zM28 22h-8l7.5-18h8L28 22z"/><circle cx="20" cy="8" r="4"/></g>
<g>
<text x="1307.46" y="285" font-size="21.6" fill="#ffffff" textLength="74.96" lengthAdjust="spacingAndGlyphs">0.00838</text>
<text x="1307.46" y="314.4" font-size="21.6" fill="#ffffff" textLength="74.96" lengthAdjust="spacingAndGlyphs">0.00836</text>
<text x="1308.99" y="337.9" font-size="21.6" fill="#ffffff" fill-opacity="0.75" textLength="77.89" lengthAdjust="spacingAndGlyphs">16:30:05</text>
<text x="1307.38" y="368.3" font-size="21.6" fill="#ffffff" textLength="49.89" lengthAdjust="spacingAndGlyphs">92.71</text>
<text x="1308.26" y="397.5" font-size="21.6" fill="#ffffff" textLength="50.02" lengthAdjust="spacingAndGlyphs">77.69</text>
<text x="138.73" y="472.8" font-size="20.5" font-weight="bold" fill="#15171c" textLength="37.33" lengthAdjust="spacingAndGlyphs">Aug</text>
<text x="398.10" y="472.8" font-size="20.5" font-weight="bold" fill="#15171c" textLength="36.32" lengthAdjust="spacingAndGlyphs">Sep</text>
<text x="650.16" y="472.8" font-size="20.5" font-weight="bold" fill="#15171c" textLength="32.62" lengthAdjust="spacingAndGlyphs">Oct</text>
<text x="907.00" y="472.8" font-size="20.5" font-weight="bold" fill="#15171c" textLength="36.60" lengthAdjust="spacingAndGlyphs">Nov</text>
<text x="1157.46" y="472.8" font-size="20.5" font-weight="bold" fill="#15171c" textLength="36.74" lengthAdjust="spacingAndGlyphs">Dec</text>
</g>
<text x="81.81 100.62 112.44 133.85 154.21 162.60 184.70 205.46 229.71 239.10 259.88" y="551.9" font-size="35.8" font-weight="bold" fill="#0f0f0f">TradingView</text>
</svg></body></html>
